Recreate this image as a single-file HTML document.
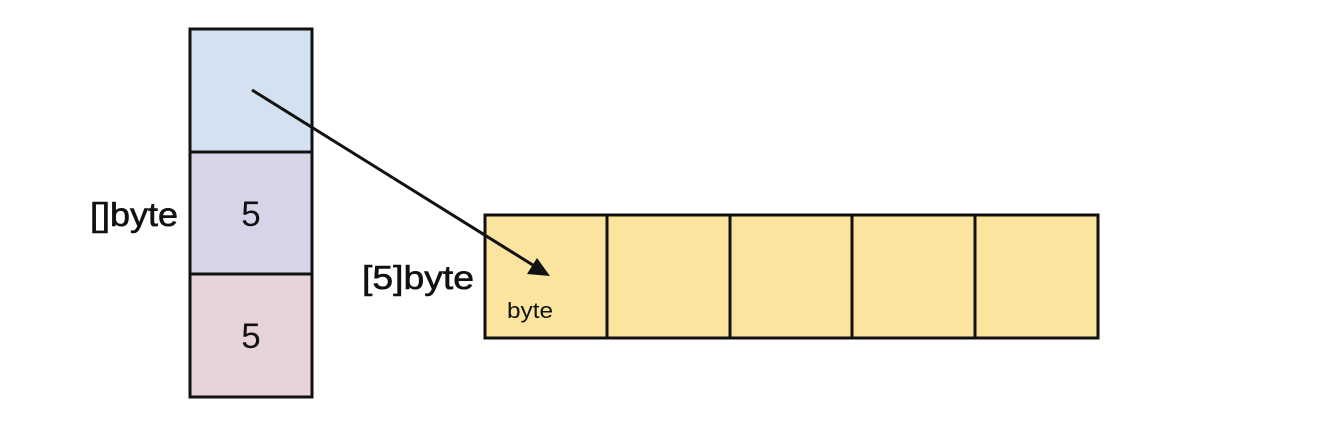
<!DOCTYPE html>
<html><head><meta charset="utf-8"><style>
html,body{margin:0;padding:0;background:#fff;}
</style></head><body>
<svg width="1328" height="430" xmlns="http://www.w3.org/2000/svg" style="display:block">
<g stroke="#111" stroke-width="3">
<rect x="190" y="29" width="122" height="123" fill="#d3e1f0"/>
<rect x="190" y="152" width="122" height="122" fill="#d9d3e7"/>
<rect x="190" y="274" width="122" height="123" fill="#e6d3db"/>
<rect x="485" y="215" width="122" height="123" fill="#fbe49e"/>
<rect x="607" y="215" width="123" height="123" fill="#fbe49e"/>
<rect x="730" y="215" width="122" height="123" fill="#fbe49e"/>
<rect x="852" y="215" width="123" height="123" fill="#fbe49e"/>
<rect x="975" y="215" width="123" height="123" fill="#fbe49e"/>
</g>
<line x1="252" y1="90" x2="536" y2="267" stroke="#111" stroke-width="3"/>
<polygon points="550,276 527,274 537,258" fill="#111"/>
<g font-family="Liberation Sans, sans-serif" fill="#111">
<text x="251" y="226" font-size="35" text-anchor="middle">5</text>
<text x="251" y="348" font-size="35" text-anchor="middle">5</text>
<text x="90" y="226" font-size="33" textLength="88" lengthAdjust="spacingAndGlyphs" stroke="#111" stroke-width="0.6">[]byte</text>
<text x="362" y="289" font-size="33" textLength="112" lengthAdjust="spacingAndGlyphs" stroke="#111" stroke-width="0.6">[5]byte</text>
<text x="507" y="318" font-size="22" textLength="46" lengthAdjust="spacingAndGlyphs">byte</text>
</g>
</svg>
</body></html>
